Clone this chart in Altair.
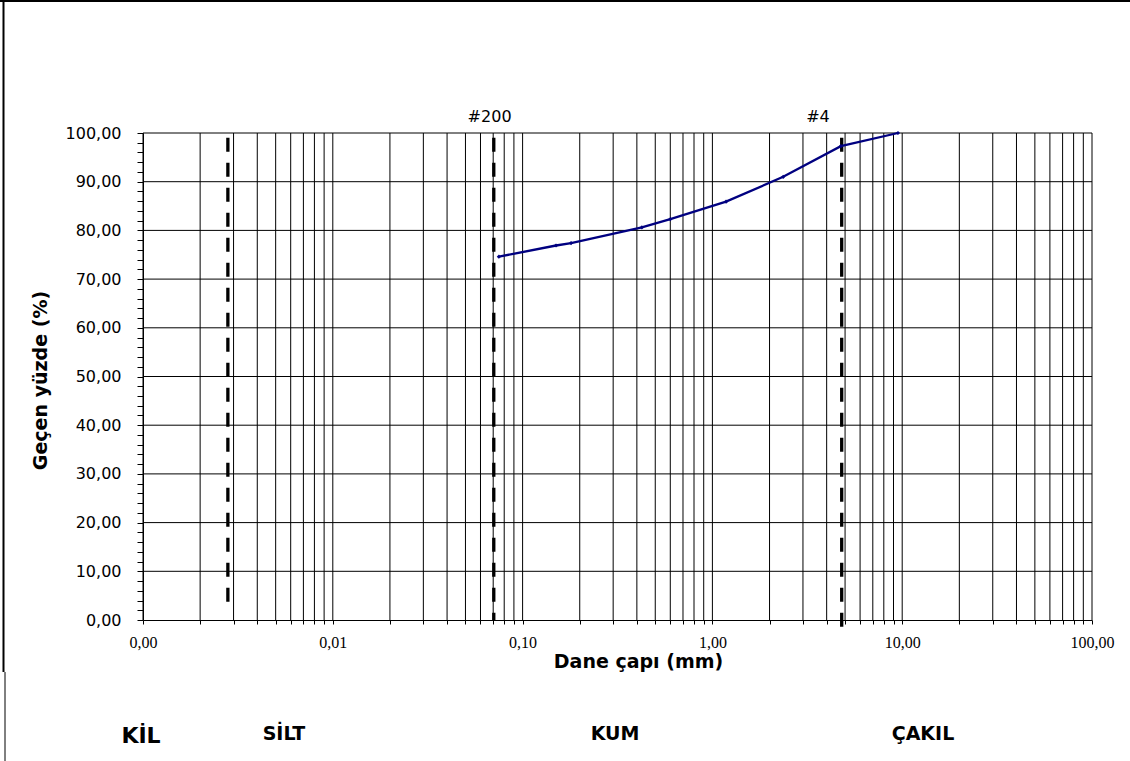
import altair as alt
import pandas as pd

# ---- data ----
grain_size = [0.075, 0.15, 0.18, 0.425, 0.6, 1.18, 2.36, 4.75, 9.5]
passing = [74.6, 76.9, 77.4, 80.6, 82.3, 85.9, 91.0, 97.3, 100.0]

boundary_x = [0.0028, 0.0705, 4.8]
boundary_top = [99.0, 99.0, 99.0]
boundary_bottom = [2.9, 0.0, -1.6]

sieve_labels = ["#200", "#4"]
sieve_label_x = [0.067, 3.6]

soil_classes = ["KİL", "SİLT", "KUM", "ÇAKIL"]

mantissas = [1, 2, 3, 4, 5, 6, 7, 8, 9]
exponents = [-3, -2, -1, 0, 1]
x_grid = [round(m * 10.0 ** e, 6) for e in exponents for m in mantissas] + [100.0]
y_grid = [10, 20, 30, 40, 50, 60, 70, 80, 90, 100]
y_ticks = list(range(0, 101, 2))

W, H = 949, 487
LEFT, TOP = 143, 133

curve = pd.DataFrame({"size": grain_size, "pass": passing})
bounds = pd.DataFrame({"size": boundary_x, "top": boundary_top, "bottom": boundary_bottom})
sieves = pd.DataFrame({"size": sieve_label_x, "label": sieve_labels})
gx = pd.DataFrame({"size": x_grid})
gy = pd.DataFrame({"pass": y_grid})

num_expr = "replace(format(datum.value, '.2f'), '.', ',')"

xscale = alt.Scale(type="log", domain=[0.001, 100], nice=False)
yscale = alt.Scale(domain=[0, 100], nice=False, zero=False)

xaxis = alt.Axis(
    values=x_grid,
    labelExpr="abs(log(datum.value)/LN10 - round(log(datum.value)/LN10)) < 1e-6 ? " + num_expr + " : ''",
    labelOverlap=False, labelFlush=False,
    grid=False, tickSize=4, tickColor="black", domainColor="black",
    labelFont="Liberation Serif", labelFontSize=16, labelColor="black", labelPadding=10,
    titleFont="DejaVu Sans", titleFontWeight="bold", titleFontSize=19, titleColor="black",
    titleX=495, titleY=47, titleBaseline="alphabetic", titleAlign="center",
)
yaxis = alt.Axis(
    values=y_ticks,
    labelExpr="datum.value % 10 === 0 ? " + num_expr + " : ''",
    labelOverlap=False, labelFlush=False,
    grid=False, tickSize=6, tickColor="black", domainColor="black",
    labelFont="DejaVu Sans", labelFontSize=16, labelColor="black", labelPadding=16,
    titleFont="DejaVu Sans", titleFontWeight="bold", titleFontSize=19, titleColor="black",
    titleX=-97, titleY=247, titleAngle=270, titleBaseline="alphabetic", titleAlign="center",
)

XT = "Dane çapı (mm)"
YT = "Geçen yüzde (%)"

def X(field):
    return alt.X(field, type="quantitative", scale=xscale, axis=xaxis, title=XT)

def Y(field):
    return alt.Y(field, type="quantitative", scale=yscale, axis=yaxis, title=YT)

grid_x = alt.Chart(gx).mark_rule(color="black", strokeWidth=1).encode(x=X("size"))
grid_y = alt.Chart(gy).mark_rule(color="black", strokeWidth=1).encode(y=Y("pass"))

dashed = alt.Chart(bounds).mark_rule(color="black", strokeWidth=3.3, strokeDash=[14, 11]).encode(
    x=X("size"), y=Y("top"), y2="bottom"
)

line = alt.Chart(curve).mark_line(
    color="#000080", strokeWidth=2.3,
    point=alt.OverlayMarkDef(shape="diamond", size=18, color="#000080", filled=True),
).encode(x=X("size"), y=Y("pass"))

sieve_text = alt.Chart(sieves).mark_text(
    font="DejaVu Sans", fontSize=16, color="black", baseline="alphabetic", align="center"
).encode(x=X("size"), y=alt.value(-11), text="label:N")

# bottom soil-class labels
cls_df = pd.DataFrame({"label": soil_classes, "px": [-2, 141, 472, 780],
                       "py": [610, 607, 607, 607], "fs": [22, 19, 19, 19]})
cls_text = alt.Chart(cls_df).mark_text(
    font="DejaVu Sans", fontWeight="bold", color="black", baseline="alphabetic", align="center"
).encode(
    x=alt.X("px:Q", scale=None), y=alt.Y("py:Q", scale=None), text="label:N",
    size=alt.Size("fs:Q", scale=None, legend=None),
)

# outer frame lines (partial, as in reference)
frame_top = alt.Chart(pd.DataFrame({"a": [0]})).mark_rule(color="black", strokeWidth=2).encode(
    x=alt.value(-LEFT), x2=alt.value(1130 - LEFT), y=alt.value(-TOP + 1)
)
frame_left = alt.Chart(pd.DataFrame({"a": [0]})).mark_rule(color="black", strokeWidth=2).encode(
    x=alt.value(-139.5), y=alt.value(-TOP), y2=alt.value(539)
)
frame_left2 = alt.Chart(pd.DataFrame({"a": [0]})).mark_rule(color="black", strokeWidth=1).encode(
    x=alt.value(-138), y=alt.value(539), y2=alt.value(761 - TOP)
)

chart = alt.layer(
    grid_x, grid_y, dashed, line, sieve_text, cls_text, frame_top, frame_left, frame_left2
).properties(
    width=W, height=H,
    autosize=alt.AutoSizeParams(type="none"),
    padding={"left": LEFT, "top": TOP, "right": 1130 - LEFT - W, "bottom": 761 - TOP - H},
    background="white",
).configure_view(stroke="transparent")

chart.save("out.html", embed_options={"renderer": "svg", "actions": False})
